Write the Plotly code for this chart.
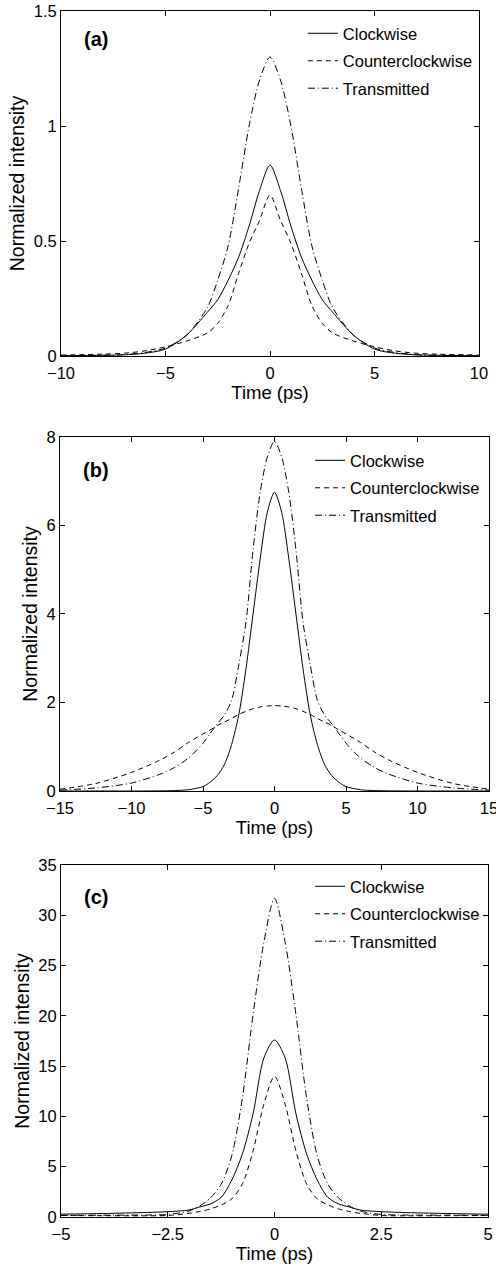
import plotly.graph_objects as go

# ---------------- data ----------------
# Panel (a)
t_a = [-10, -8, -7, -6, -5, -4, -3, -2.5, -2, -1.5, -1, -0.5, 0,
       0.5, 1, 1.5, 2, 2.5, 3, 4, 5, 6, 7, 8, 10]
cw_a = [0.001, 0.003, 0.005, 0.012, 0.03, 0.09, 0.19, 0.245, 0.33, 0.43, 0.565, 0.72, 0.83,
        0.72, 0.565, 0.43, 0.33, 0.245, 0.19, 0.09, 0.03, 0.012, 0.005, 0.003, 0.001]
ccw_a = [0.004, 0.008, 0.012, 0.022, 0.04, 0.065, 0.10, 0.142, 0.22, 0.36, 0.49, 0.59, 0.70,
         0.59, 0.49, 0.36, 0.22, 0.142, 0.10, 0.065, 0.04, 0.022, 0.012, 0.008, 0.004]
tr_a = [0.001, 0.003, 0.006, 0.015, 0.035, 0.09, 0.21, 0.33, 0.48, 0.73, 1.00, 1.20, 1.30,
        1.20, 1.00, 0.73, 0.48, 0.33, 0.21, 0.09, 0.035, 0.015, 0.006, 0.003, 0.001]

# Panel (b)
t_b = [-15, -12.5, -10, -8, -7, -6, -5, -4.5, -4, -3.5, -3, -2.5, -2, -1.5, -1, -0.5, 0,
       0.5, 1, 1.5, 2, 2.5, 3, 3.5, 4, 4.5, 5, 6, 7, 8, 10, 12.5, 15]
cw_b = [0, 0, 0, 0.003, 0.01, 0.03, 0.1, 0.2, 0.35, 0.6, 1.05, 1.72, 2.75, 4.0, 5.25, 6.3, 6.75,
        6.3, 5.25, 4.0, 2.75, 1.72, 1.05, 0.6, 0.35, 0.2, 0.1, 0.03, 0.01, 0.003, 0, 0, 0]
ccw_b = [0.04, 0.17, 0.42, 0.7, 0.88, 1.1, 1.29, 1.38, 1.48, 1.56, 1.64, 1.73, 1.8, 1.86, 1.9, 1.92, 1.93,
         1.92, 1.9, 1.86, 1.8, 1.73, 1.64, 1.56, 1.48, 1.38, 1.29, 1.1, 0.88, 0.7, 0.42, 0.17, 0.04]
tr_b = [0.02, 0.07, 0.18, 0.38, 0.53, 0.75, 1.08, 1.3, 1.52, 1.72, 2.05, 2.85, 3.8, 5.45, 6.75, 7.55, 7.9,
        7.55, 6.75, 5.45, 3.8, 2.85, 2.05, 1.72, 1.52, 1.3, 1.08, 0.75, 0.53, 0.38, 0.18, 0.07, 0.02]

# Panel (c)
t_c = [-5, -4, -3, -2.5, -2, -1.75, -1.5, -1.25, -1, -0.75, -0.5, -0.25, 0,
       0.25, 0.5, 0.75, 1, 1.25, 1.5, 1.75, 2, 2.5, 3, 4, 5]
cw_c = [0.28, 0.35, 0.45, 0.53, 0.7, 1.0, 1.3, 1.95, 3.68, 6.3, 10.3, 15.8, 17.6,
        15.8, 10.3, 6.3, 3.68, 1.95, 1.3, 1.0, 0.7, 0.53, 0.45, 0.35, 0.28]
ccw_c = [0.15, 0.13, 0.12, 0.15, 0.37, 0.55, 0.8, 1.2, 1.8, 3.3, 6.6, 11.2, 14.0,
         11.2, 6.6, 3.3, 1.8, 1.2, 0.8, 0.55, 0.37, 0.15, 0.12, 0.13, 0.15]
tr_c = [0.17, 0.18, 0.2, 0.25, 0.6, 1.1, 1.9, 3.25, 6.1, 11.9, 20.2, 27.3, 31.7,
        27.3, 20.2, 11.9, 6.1, 3.25, 1.9, 1.1, 0.6, 0.25, 0.2, 0.18, 0.17]

series_names = ["Clockwise", "Counterclockwise", "Transmitted"]
panel_labels = ["(a)", "(b)", "(c)"]
x_title = "Time (ps)"
y_title = "Normalized intensity"

xt_a = [-10, -5, 0, 5, 10]; xt_a_txt = ["\u221210", "\u22125", "0", "5", "10"]
yt_a = [0, 0.5, 1, 1.5];    yt_a_txt = ["0", "0.5", "1", "1.5"]
xt_b = [-15, -10, -5, 0, 5, 10, 15]; xt_b_txt = ["\u221215", "\u221210", "\u22125", "0", "5", "10", "15"]
yt_b = [0, 2, 4, 6, 8];     yt_b_txt = ["0", "2", "4", "6", "8"]
xt_c = [-5, -2.5, 0, 2.5, 5]; xt_c_txt = ["\u22125", "\u22122.5", "0", "2.5", "5"]
yt_c = [0, 5, 10, 15, 20, 25, 30, 35]; yt_c_txt = ["0", "5", "10", "15", "20", "25", "30", "35"]

# ---------------- figure ----------------
FONT = "Liberation Sans, Arial, Helvetica, sans-serif"
W, H = 496, 1267
ML, MR, MT, MB = 60, 7, 11, 50

dashes = ["solid", "5px,4px", "7px,3px,1px,3px"]

panels = [
    dict(t=t_a, ys=[cw_a, ccw_a, tr_a], xr=[-10, 10], yr=[0, 1.5], xt=xt_a, xtt=xt_a_txt, yt=yt_a, ytt=yt_a_txt,
         xdom=[1/429, 419/429], ydom=[0.71393, 1.0], leg=dict(x=0.566, y=0.9958), lab_y=0.918),
    dict(t=t_b, ys=[cw_b, ccw_b, tr_b], xr=[-15, 15], yr=[0, 8], xt=xt_b, xtt=xt_b_txt, yt=yt_b, ytt=yt_b_txt,
         xdom=[0, 1], ydom=[0.35323, 0.64677], leg=dict(x=0.583, y=0.6417), lab_y=0.908),
    dict(t=t_c, ys=[cw_c, ccw_c, tr_c], xr=[-5, 5], yr=[0, 35], xt=xt_c, xtt=xt_c_txt, yt=yt_c, ytt=yt_c_txt,
         xdom=[1/429, 428/429], ydom=[0.0, 0.29187], leg=dict(x=0.583, y=0.2885), lab_y=0.908),
]

fig = go.Figure()
layout = dict(
    width=W, height=H,
    margin=dict(l=ML, r=MR, t=MT, b=MB, autoexpand=False),
    paper_bgcolor="white", plot_bgcolor="white",
    font=dict(family=FONT, color="black", size=16.5),
    annotations=[],
)

for i, p in enumerate(panels):
    n = "" if i == 0 else str(i + 1)
    xa, ya = "x" + n, "y" + n
    lg = "legend" + n
    for j in range(3):
        fig.add_trace(go.Scatter(
            x=p["t"], y=p["ys"][j], mode="lines", name=series_names[j],
            line=dict(color="black", width=1, dash=dashes[j], shape="spline", smoothing=0.8),
            xaxis=xa, yaxis=ya, legend=lg, legendgroup=f"g{i}{j}", showlegend=True,
        ))
    axcommon = dict(showline=True, linecolor="black", linewidth=1, mirror="ticks",
                    ticks="inside", ticklen=5, tickwidth=1, tickcolor="black",
                    showgrid=False, zeroline=False, tickfont=dict(size=16.5, family=FONT),
                    ticklabeloverflow="allow")
    layout["xaxis" + n] = dict(axcommon, domain=p["xdom"], range=p["xr"], anchor=ya,
                               tickmode="array", tickvals=p["xt"], ticktext=p["xtt"],
                               ticklabelstandoff=2,
                               title=dict(text=x_title, font=dict(size=18.5), standoff=1))
    layout["yaxis" + n] = dict(axcommon, domain=p["ydom"], range=p["yr"], anchor=xa,
                               tickmode="array", tickvals=p["yt"], ticktext=p["ytt"],
                               title=dict(text=y_title, font=dict(size=19.5), standoff=3))
    layout[lg] = dict(x=p["leg"]["x"], y=p["leg"]["y"], xanchor="left", yanchor="top",
                      bgcolor="rgba(0,0,0,0)", borderwidth=0, tracegroupgap=3,
                      font=dict(size=16.5, family=FONT), itemwidth=30)
    layout["annotations"].append(dict(
        text="<b>" + panel_labels[i] + "</b>", xref=xa + " domain", yref=ya + " domain",
        x=0.05, y=p["lab_y"], xanchor="left", yanchor="middle", showarrow=False,
        font=dict(size=20, family=FONT)))

fig.update_layout(**layout)
fig.write_html("out.html", config={"displayModeBar": False},
               post_script="document.body.style.margin='0px';document.body.style.overflow='hidden';")
